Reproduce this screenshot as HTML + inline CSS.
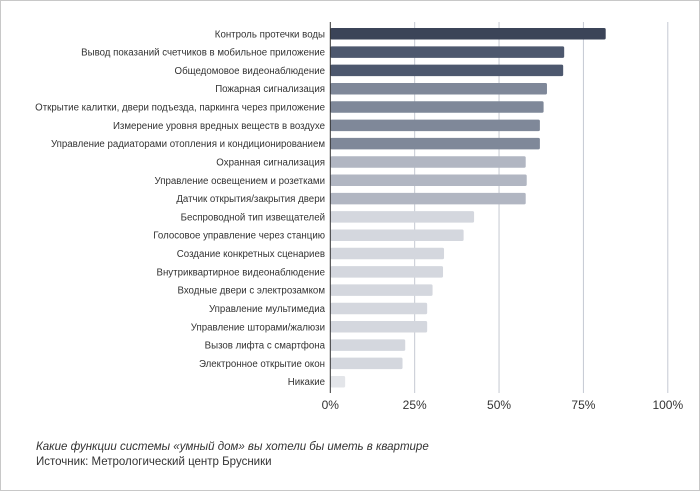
<!DOCTYPE html>
<html><head><meta charset="utf-8">
<style>
html,body{margin:0;padding:0;background:#fff;}
#wrap{position:relative;width:700px;height:491px;overflow:hidden;}
#frame{position:absolute;left:0;top:0;width:698px;height:489px;border:1px solid #c8c8c8;}
.cap{position:absolute;left:36px;font-family:"Liberation Sans",sans-serif;font-size:11.5px;color:#333;white-space:nowrap;}
</style></head>
<body>
<div id="wrap">
<div id="frame"></div>
<svg id="chart" width="700" height="491" style="position:absolute;left:0;top:0"></svg>
<div class="cap" style="top:441px;font-style:italic">Какие функции системы «умный дом» вы хотели бы иметь в квартире</div>
<div class="cap" style="top:456px">Источник: Метрологический центр Брусники</div>
</div>
<script>
const categories = ["Контроль протечки воды","Вывод показаний счетчиков в мобильное приложение","Общедомовое видеонаблюдение","Пожарная сигнализация","Открытие калитки, двери подъезда, паркинга через приложение","Измерение уровня вредных веществ в воздухе","Управление радиаторами отопления и кондиционированием","Охранная сигнализация","Управление освещением и розетками","Датчик открытия/закрытия двери","Беспроводной тип извещателей","Голосовое управление через станцию","Создание конкретных сценариев","Внутриквартирное видеонаблюдение","Входные двери с электрозамком","Управление мультимедиа","Управление шторами/жалюзи","Вызов лифта с смартфона","Электронное открытие окон","Никакие"];
const values = [81.6,69.3,69.0,64.2,63.2,62.1,62.1,57.9,58.2,57.9,42.6,39.5,33.7,33.4,30.3,28.7,28.7,22.2,21.4,4.4];
const colors = ["#3b4458","#4d586e","#4d586e","#7f8899","#7f8899","#7f8899","#7f8899","#b1b6c2","#b1b6c2","#b1b6c2","#d4d7de","#d4d7de","#d4d7de","#d4d7de","#d4d7de","#d4d7de","#d4d7de","#d4d7de","#d4d7de","#e3e5e9"];
const ticks = [0,25,50,75,100];
const tickLabels = ["0%","25%","50%","75%","100%"];

const NS="http://www.w3.org/2000/svg";
const svg=document.getElementById('chart');
const x0=330.3, xw=337.5, yTop=22, yBot=393, row0=33.8, pitch=18.31, bh=11.5;
function xs(v){return x0+v/100*xw;}
function yc(i){return row0+i*pitch;}
function mk(t,a){const e=document.createElementNS(NS,t);for(const k in a)e.setAttribute(k,a[k]);svg.appendChild(e);return e;}
ticks.forEach((t,i)=>{
  if(t>0){const g=mk('line',{x1:xs(t),x2:xs(t),y1:yTop,y2:yBot,stroke:'#c5c9d2','stroke-width':1});
  
  }
  const l=mk('text',{x:xs(t),y:409,'text-anchor':'middle','font-family':'Liberation Sans, sans-serif','font-size':12,fill:'#333'});
  l.textContent=tickLabels[i];
  
  
});
categories.forEach((c,i)=>{
  const r=mk('rect',{x:x0,y:yc(i)-bh/2,width:xs(values[i])-x0,height:bh,rx:1.5,fill:colors[i]});
  
  
  const t=mk('text',{x:325,y:yc(i)+3.5,'text-anchor':'end','font-family':'Liberation Sans, sans-serif','font-size':9.7,fill:'#333'});
  t.textContent=c;
  
  
});
const ax=mk('line',{x1:x0,x2:x0,y1:yTop,y2:yBot,stroke:'#333','stroke-width':1});


</script>
</body></html>
